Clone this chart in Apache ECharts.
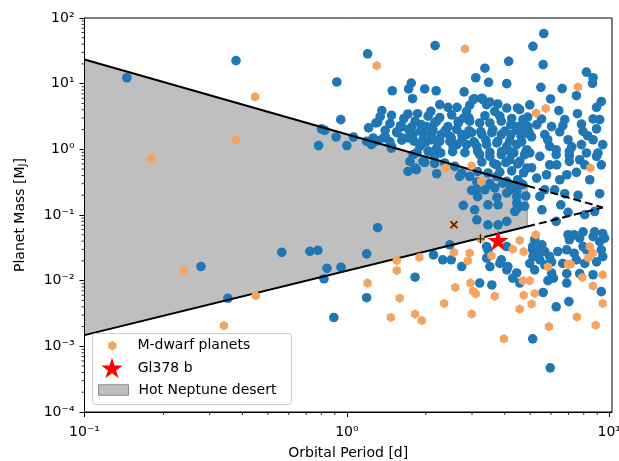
<!DOCTYPE html>
<html><head><meta charset="utf-8">
<script src="https://cdn.jsdelivr.net/npm/echarts@6/dist/echarts.min.js"></script>
<style>html,body{margin:0;padding:0;background:#fff}#c{width:619px;height:461px}</style>
</head><body><div id="c"></div>
<script>
// ---- data ----
const blueP = [
0.145,0.378,0.916,0.948,0.80,0.824,0.91,0.78,1.0,1.06,
0.565,0.723,0.776,0.278,0.84,0.95,0.818,0.352,0.892,2.17,
1.20,1.49,1.76,1.72,1.78,1.98,2.19,2.80,3.10,3.06,
1.36,1.71,1.86,2.09,2.43,2.63,1.21,1.31,1.46,1.60,
1.77,1.92,2.16,2.39,2.66,2.92,1.19,1.26,1.38,1.48,
1.63,1.79,1.95,2.10,2.26,2.47,2.63,2.86,3.07,1.90,
2.04,2.16,1.79,1.98,1.71,1.84,2.20,2.58,2.74,2.94,
2.99,3.13,2.78,3.07,3.13,1.31,3.47,4.07,3.03,3.27,
3.41,2.86,3.36,3.66,4.07,4.56,4.69,1.29,1.62,1.82,
2.01,2.20,2.43,2.66,2.94,3.21,3.51,3.88,4.22,4.62,
1.26,1.40,1.55,1.71,1.95,2.10,2.29,2.50,2.74,2.99,
3.27,3.57,3.88,4.22,4.62,4.98,1.24,1.48,1.92,2.20,
2.54,2.86,3.13,3.41,3.73,4.07,4.44,4.85,3.21,3.51,
3.88,4.18,4.56,1.74,1.95,2.16,1.82,2.69,3.45,3.73,
4.07,4.48,3.36,3.66,4.07,4.44,3.45,3.77,5.63,5.12,
4.14,5.60,3.36,8.19,8.68,8.64,5.49,6.62,7.5,5.98,
3.30,3.51,9.33,8.95,4.47,6.43,7.57,8.68,5.52,6.77,
6.03,6.66,7.84,8.95,4.48,4.90,7.95,5.06,5.68,6.97,
7.84,8.68,5.93,6.28,8.19,9.06,7.05,4.76,4.18,4.98,
5.44,6.28,7.05,8.95,7.05,7.72,9.33,5.93,3.73,4.85,
5.77,6.89,7.5,5.29,6.48,3.93,4.29,4.69,5.44,6.20,
7.61,3.13,4.44,4.37,4.76,5.54,6.54,6.97,8.07,8.80,
3.45,3.77,4.07,6.28,6.97,7.35,7.95,8.80,9.45,9.60,
7.72,7.05,5.20,5.54,3.45,4.07,5.35,5.68,5.12,5.44,
5.93,6.37,6.89,7.35,7.95,9.33,9.45,8.95,7.5,8.07,
3.51,3.83,4.07,4.29,5.20,5.68,6.13,6.89,7.72,8.68,
3.57,3.21,2.47,1.19,2.14,2.32,2.50,2.74,1.82,1.19,
3.41,3.41,3.88,4.11,4.44,4.56,5.11,4.98,5.60,5.84,
6.03,6.28,5.11,5.96,7.02,6.89,9.33,8.68,9.2,8.19,
6.65,5.11,5.44,6.03,4.48,4.44,4.18,
1.34,1.48,1.65,2.04,2.26,2.51,2.79,3.83,4.25,4.89,
1.40,1.55,1.72,1.91,2.13,2.36,2.62,2.92,3.24,3.60,4.00,4.44,4.93,
1.31,1.46,1.62,1.80,2.0,2.22,2.47,2.74,3.05,3.39,3.76,4.18,4.64,
1.85,2.05,2.28,2.53,2.82,3.15,3.51,3.89,4.33,4.81,
2.36,3.27,3.63,4.04,4.48,
3.15,3.83,4.25,4.72,
3.51,4.56,
3.15,3.73,4.81,
2.26,2.94,3.76,4.98,
5.30,5.83,6.48,7.2,8.28,9.2,9.45,6.31,8.43,5.68,6.77,9.2,5.06,8.07
];
const blueM = [
12.3,22.4,10.6,2.83,2.05,1.95,1.54,1.14,1.14,1.54,
0.027,0.028,0.029,0.0164,0.0154,0.0160,0.0107,0.0054,0.00275,38,
28.5,7.8,10.2,8.3,5.9,8.3,7.8,7.5,12.3,5.9,
3.9,3.45,3.49,3.78,4.36,4.36,2.12,2.57,2.46,2.29,
2.19,2.38,2.52,1.99,2.68,3.0,1.32,1.25,1.49,1.11,
1.49,1.68,1.40,1.68,1.32,1.58,1.18,1.68,1.25,1.11,
0.93,0.78,0.83,0.63,0.46,0.49,0.425,0.55,0.435,0.386,
0.237,0.318,0.140,0.120,0.0845,0.064,10.5,10.0,5.7,6.0,
4.78,3.78,3.25,3.78,4.25,4.02,2.83,2.52,2.22,2.68,
2.22,2.68,2.22,2.52,2.68,2.52,2.52,2.68,2.38,2.12,
1.49,1.58,1.79,1.49,1.79,1.40,1.68,1.49,1.68,1.79,
1.68,1.79,1.68,1.68,1.58,1.68,1.18,1.04,1.18,1.04,
1.11,1.18,1.11,1.18,1.25,1.11,1.18,0.986,0.83,0.78,
0.83,0.694,0.655,0.655,0.655,0.61,0.52,0.386,0.436,0.386,
0.326,0.344,0.242,0.258,0.216,0.23,0.143,0.143,58,37,
21.9,19.5,17.2,15.0,12.3,10.1,8.8,8.4,6.56,5.85,
5.7,5.25,5.35,4.37,4.27,3.88,3.49,2.90,2.90,2.83,
2.22,2.30,2.42,2.05,2.22,2.22,1.88,1.55,1.68,1.40,
1.18,1.40,1.11,0.986,0.88,0.88,0.93,0.83,0.93,0.88,
0.78,0.83,0.80,0.78,0.655,0.694,0.58,0.58,0.58,0.52,
0.41,0.41,0.445,0.365,0.344,0.305,0.27,0.29,0.192,0.242,
0.20,0.242,0.152,0.113,0.136,0.120,0.143,0.110,0.101,0.113,
0.0709,0.0709,0.080,0.080,0.050,0.050,0.0555,0.0555,0.052,0.0443,
0.0443,0.042,0.042,0.0352,0.0295,0.0331,0.0295,0.0278,0.0233,0.0208,
0.0233,0.0278,0.0295,0.0262,0.0331,0.0295,0.0233,0.0193,0.0208,0.0183,
0.0164,0.0183,0.0146,0.0109,0.0146,0.0174,0.0109,0.0128,0.0128,0.0123,
0.0086,0.0092,0.0352,0.0256,0.0247,0.0208,0.0208,0.0164,0.0113,0.0055,
0.0331,0.0221,0.0208,0.0164,0.0131,0.0092,0.0295,0.0183,0.0066,0.0100,
0.0131,0.0040,0.0013,0.00047,0.0048,0.0092,0.0068,0.047,0.0395,0.0295,
0.0183,0.0331,0.0262,0.0193,0.128,0.19,0.242,
3.14,3.3,2.95,3.2,3.05,3.35,3.0,3.2,2.95,3.1,
1.95,1.85,2.0,1.9,1.97,1.88,2.02,1.92,1.86,2.0,1.9,1.96,1.88,
1.36,1.30,1.38,1.33,1.29,1.37,1.32,1.35,1.30,1.38,1.33,1.36,1.31,
0.90,0.93,0.88,0.92,0.89,0.94,0.90,0.92,0.88,0.91,
0.62,0.64,0.61,0.63,0.60,
0.46,0.45,0.47,0.44,
0.30,0.31,
0.19,0.185,0.195,
4.8,4.7,4.9,4.75,
2.38,1.40,1.85,1.09,1.61,2.83,1.18,0.58,0.344,0.242,0.211,0.211,0.524,0.58
];
const mdwarfP = [
0.179,0.378,0.447,1.30,2.82,7.6,5.73,5.26,2.38,2.99,
3.25,8.48,0.239,0.450,0.340,2.56,3.23,4.56,5.25,4.29,
4.72,3.56,2.56,2.94,5.84,8.43,8.65,8.32,1.55,1.55,
1.89,1.20,1.59,1.47,1.82,1.93,2.35,2.59,2.89,2.96,
3.03,3.10,2.99,3.66,3.97,4.69,4.98,4.72,5.20,4.56,
5.06,5.89,6.97,7.13,7.53,7.90,8.67,8.88,9.45,9.45
];
const mdwarfM = [
0.72,1.40,6.3,18.8,34,8.9,4.2,3.57,0.52,0.56,
0.324,0.52,0.0142,0.0059,0.00207,0.0709,0.0434,0.0410,0.050,0.0302,
0.0276,0.0239,0.0268,0.0262,0.0162,0.0331,0.0262,0.0223,0.0202,0.0143,
0.0226,0.0092,0.0054,0.00275,0.0031,0.00247,0.0045,0.0079,0.020,0.0092,
0.0069,0.0063,0.0031,0.0058,0.0013,0.0100,0.0100,0.0060,0.0064,0.0037,
0.0044,0.0020,0.0178,0.0178,0.0028,0.0112,0.0083,0.0021,0.0123,0.0045
];
const gl378P = [3.77];
const gl378M = [0.041];
const crossP = [2.56];
const crossM = [0.0709];
const plusP = [3.23];
const plusM = [0.0434];
// Hot Neptune desert boundaries: solid part up to desertP[1], dashed to desertP[2]
const desertP = [0.1, 4.87, 9.45];
const desertUpper = [23.4, 0.279, 0.13];
const desertLower = [0.00148, 0.0667, 0.13];
const xTicks = [0.1, 1, 10];
const yTicks = [1e-4, 1e-3, 1e-2, 1e-1, 1, 10, 100];
const xRange = [0.1, 10.25];
const yRange = [1e-4, 100];

// ---- helpers ----
const FONT = 'DejaVu Sans';
const SUP = {'-':'\u207B','0':'\u2070','1':'\u00B9','2':'\u00B2','3':'\u00B3','4':'\u2074','5':'\u2075','6':'\u2076','7':'\u2077','8':'\u2078','9':'\u2079'};
function powLabel(v){
  const e = Math.round(Math.log10(v));
  return '10' + String(e).split('').map(c => SUP[c]).join('');
}
function zip(a, b){ return a.map((v, i) => [v, b[i]]); }
const minorX = [], minorY = [];
for (let i = 0; i < xTicks.length - 1; i++) for (let k = 2; k <= 9; k++) minorX.push(xTicks[i] * k);
for (let i = 0; i < yTicks.length - 1; i++) for (let k = 2; k <= 9; k++) minorY.push(yTicks[i] * k);

const HEX = 'path://M0,-10L8.66,-5L8.66,5L0,10L-8.66,5L-8.66,-5Z';
const STAR = 'path://M0,-1L0.2245,-0.309L0.9511,-0.309L0.3633,0.118L0.5878,0.809L0,0.382L-0.5878,0.809L-0.3633,0.118L-0.9511,-0.309L-0.2245,-0.309Z';
const XMARK = 'path://M0,0L10,10M10,0L0,10';
const PLUS = 'path://M5,0L5,10M0,5L10,5';

const chart = echarts.init(document.getElementById('c'), null, {renderer: 'canvas'});
const axisCommon = {
  type: 'log', logBase: 10, z: 10,
  axisLine: {show: true, onZero: false, lineStyle: {color: '#000', width: 1}},
  axisTick: {show: true, length: 5, lineStyle: {color: '#000', width: 1}},
  splitLine: {show: false},
  minorTick: {show: false},
  nameLocation: 'middle'
};
const option = {
  animation: false,
  backgroundColor: '#fff',
  textStyle: {fontFamily: FONT},
  grid: {left: 84.5, right: 7, top: 18, bottom: 49, show: true, borderColor: '#000', borderWidth: 1, z: 10,
         containLabel: false, outerBoundsMode: 'none'},
  xAxis: Object.assign({}, axisCommon, {
    min: xRange[0], max: xRange[1],
    name: 'Orbital Period [d]', nameGap: 34,
    nameTextStyle: {fontSize: 14, color: '#000', fontFamily: FONT},
    axisLabel: {color: '#000', fontSize: 14, fontFamily: FONT, margin: 13, formatter: powLabel}
  }),
  yAxis: Object.assign({}, axisCommon, {
    min: yRange[0], max: yRange[1],
    name: 'Planet Mass [M{s|J}]', nameGap: 56,
    nameTextStyle: {fontSize: 14, color: '#000', fontFamily: FONT,
      rich: {s: {fontSize: 10, color: '#000', fontFamily: FONT, padding: [7, 0, 0, 0]}}},
    axisLabel: {color: '#000', fontSize: 14, fontFamily: FONT, margin: 10, padding: [3, 0, 0, 0], formatter: powLabel}
  }),
  legend: [
    {data: [{name: 'M-dwarf planets', icon: HEX, itemStyle: {color: '#f4a460'}}],
     left: 108.2, top: 337.7, padding: 0, itemWidth: 8.2, itemHeight: 9.5, selectedMode: false, z: 20,
     textStyle: {fontSize: 14, color: '#000', fontFamily: FONT, lineHeight: 16, padding: [0, 0, 0, 16]}},
    {data: [{name: 'Gl378 b', icon: STAR, itemStyle: {color: '#ff0000'}}],
     left: 101.25, top: 357.75, padding: 0, itemWidth: 21.5, itemHeight: 20.5, selectedMode: false, z: 20,
     textStyle: {fontSize: 14, color: '#000', fontFamily: FONT, lineHeight: 16, padding: [0, 0, 0, 10]}},
    {data: [{name: 'Hot Neptune desert', icon: 'rect', itemStyle: {color: '#bfbfbf', borderColor: '#8c8c8c', borderWidth: 1}}],
     left: 98, top: 382, padding: 0, itemWidth: 30, itemHeight: 10.5, selectedMode: false, z: 20,
     textStyle: {fontSize: 14, color: '#000', fontFamily: FONT, lineHeight: 16, padding: [0, 0, 0, 5]}}
  ],
  graphic: [{type: 'rect', left: 92, top: 333, z: 19,
    shape: {width: 199, height: 71, r: 3},
    style: {fill: 'rgba(255,255,255,0.8)', stroke: '#cccccc', lineWidth: 1}}],
  series: [
    {name: 'Hot Neptune desert', type: 'custom', z: 1, silent: true,
     data: [[desertP[0], desertUpper[0]]],
     renderItem: function(params, api){
       const pts = [];
       for (let i = 0; i < 2; i++) pts.push(api.coord([desertP[i], desertUpper[i]]));
       for (let i = 1; i >= 0; i--) pts.push(api.coord([desertP[i], desertLower[i]]));
       return {type: 'polygon', shape: {points: pts}, style: {fill: '#bfbfbf', stroke: '#8c8c8c', lineWidth: 1}};
     }},
    {name: 'Known planets', type: 'scatter', z: 2, silent: true,
     data: zip(blueP, blueM), symbol: 'circle', symbolSize: 9.6,
     itemStyle: {color: '#1f77b4', opacity: 1}},
    {name: 'upper solid', type: 'line', z: 3, silent: true, symbol: 'none',
     data: zip(desertP.slice(0, 2), desertUpper.slice(0, 2)),
     lineStyle: {color: '#000', width: 2}},
    {name: 'lower solid', type: 'line', z: 3, silent: true, symbol: 'none',
     data: zip(desertP.slice(0, 2), desertLower.slice(0, 2)),
     lineStyle: {color: '#000', width: 2}},
    {name: 'upper dashed', type: 'line', z: 3, silent: true, symbol: 'none',
     data: zip(desertP.slice(1), desertUpper.slice(1)),
     lineStyle: {color: '#000', width: 2, type: [8, 4]}},
    {name: 'lower dashed', type: 'line', z: 3, silent: true, symbol: 'none',
     data: zip(desertP.slice(1), desertLower.slice(1)),
     lineStyle: {color: '#000', width: 2, type: [8, 4]}},
    {name: 'M-dwarf planets', type: 'scatter', z: 4, silent: true,
     data: zip(mdwarfP, mdwarfM), symbol: HEX, symbolSize: [8.2, 9.5],
     itemStyle: {color: '#f4a460', opacity: 1}},
    {name: 'Gl378 b', type: 'scatter', z: 5, silent: true,
     data: zip(gl378P, gl378M), symbol: STAR, symbolSize: [21.5, 20.5],
     itemStyle: {color: '#ff0000', opacity: 1}},
    {name: 'x marker', type: 'scatter', z: 6, silent: true,
     data: zip(crossP, crossM), symbol: XMARK, symbolSize: 7,
     itemStyle: {color: 'none', borderColor: '#000', borderWidth: 1.5}},
    {name: '+ marker', type: 'scatter', z: 6, silent: true,
     data: zip(plusP, plusM), symbol: PLUS, symbolSize: 9,
     itemStyle: {color: 'none', borderColor: '#000', borderWidth: 1.3}},
    {name: 'x minor ticks', type: 'custom', z: 10, silent: true, clip: false,
     data: minorX.map(v => [v, yRange[0]]),
     renderItem: function(params, api){
       const p = api.coord([api.value(0), api.value(1)]);
       return {type: 'line', shape: {x1: p[0], y1: p[1], x2: p[0], y2: p[1] + 3}, style: {stroke: '#000', lineWidth: 0.8}};
     }},
    {name: 'y minor ticks', type: 'custom', z: 10, silent: true, clip: false,
     data: minorY.map(v => [xRange[0], v]),
     renderItem: function(params, api){
       const p = api.coord([api.value(0), api.value(1)]);
       return {type: 'line', shape: {x1: p[0], y1: p[1], x2: p[0] - 3, y2: p[1]}, style: {stroke: '#000', lineWidth: 0.8}};
     }}
  ]
};
chart.setOption(option);
</script>
</body></html>
